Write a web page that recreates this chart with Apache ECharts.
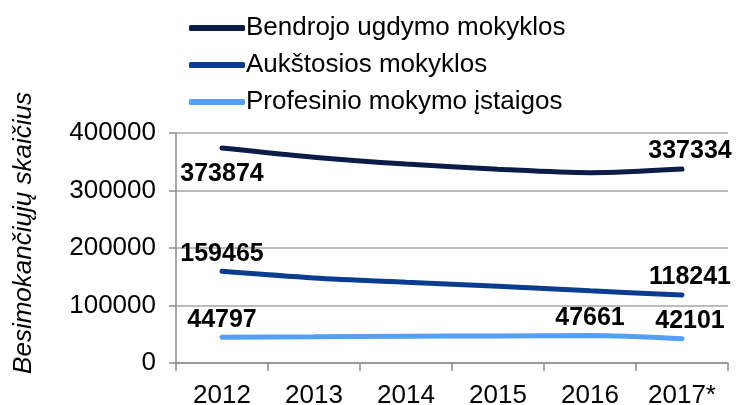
<!DOCTYPE html>
<html>
<head>
<meta charset="utf-8">
<script src="https://cdn.jsdelivr.net/npm/echarts@6/dist/echarts.min.js"></script>
<style>
  html, body { margin: 0; padding: 0; background: #fff; }
  #chart { width: 738px; height: 405px; }
</style>
</head>
<body>
<div id="chart"></div>
<script>
const years = ['2012', '2013', '2014', '2015', '2016', '2017*']
const bendrojo = [373874, 358000, 346000, 337000, 331000, 337334]
const aukstosios = [159465, 148000, 140500, 133500, 125500, 118241]
const profesinio = [44797, 45500, 46500, 47000, 47661, 42101]
const yTicks = [0, 100000, 200000, 300000, 400000]

// which points carry a value label, and where
const labelled = [
  { 0: 'bottom', 5: 'top' },
  { 0: 'top', 5: 'top' },
  { 0: 'top', 4: 'top', 5: 'top' }
]

const names = ['Bendrojo ugdymo mokyklos', 'Aukštosios mokyklos', 'Profesinio mokymo įstaigos']
const colors = ['#0c1c48', '#0a3d8f', '#559ff5']
const values = [bendrojo, aukstosios, profesinio]

const font = 'Liberation Sans, Arial, sans-serif'

function buildData(vals, marks) {
  return vals.map((v, i) => {
    if (!marks[i]) return v
    return {
      value: v,
      label: {
        show: true,
        position: marks[i],
        distance: marks[i] === 'bottom' ? 14 : 5,
        offset: i === 5 ? [8, 0] : [0, 0],
        fontFamily: font,
        fontWeight: 'bold',
        fontSize: 25,
        color: '#000'
      }
    }
  })
}

const chart = echarts.init(document.getElementById('chart'))
chart.setOption({
  animation: false,
  textStyle: { fontFamily: font },
  legend: {
    orient: 'vertical',
    left: 184,
    top: 10,
    itemWidth: 56,
    itemHeight: 6,
    itemGap: 11,
    icon: 'roundRect',
    textStyle: { fontSize: 26, color: '#000', fontFamily: font, padding: [0, 0, 0, -4] },
    data: names
  },
  grid: { left: 176, right: 10, top: 133, bottom: 42, outerBoundsMode: 'none', containLabel: false },
  xAxis: {
    type: 'category',
    data: years,
    boundaryGap: true,
    axisLine: { lineStyle: { color: '#8c8c8c', width: 1.5 } },
    axisTick: { show: true, length: 8, lineStyle: { color: '#8c8c8c', width: 1.5 } },
    axisLabel: { fontSize: 26, color: '#000', margin: 20, fontFamily: font }
  },
  yAxis: {
    type: 'value',
    min: yTicks[0],
    max: yTicks[yTicks.length - 1],
    interval: 100000,
    axisLine: { show: true, lineStyle: { color: '#8c8c8c', width: 1.5 } },
    axisTick: { show: true, length: 7, lineStyle: { color: '#8c8c8c', width: 1.5 } },
    splitLine: { lineStyle: { color: '#a6a6a6', width: 1.5 } },
    axisLabel: { fontSize: 26, color: '#000', margin: 20, fontFamily: font, formatter: v => String(v) }
  },
  graphic: [{
    type: 'text',
    x: 24,
    y: 233,
    rotation: Math.PI / 2,
    style: {
      text: 'Besimokančiųjų skaičius',
      fontSize: 26,
      fontStyle: 'italic',
      fontFamily: font,
      fill: '#000',
      align: 'center',
      verticalAlign: 'middle'
    }
  }],
  series: names.map((n, k) => ({
    name: n,
    type: 'line',
    smooth: 0.3,
    symbol: 'circle',
    symbolSize: 0,
    showSymbol: true,
    color: colors[k],
    lineStyle: { width: 5, color: colors[k], cap: 'round' },
    data: buildData(values[k], labelled[k])
  }))
})
</script>
</body>
</html>
